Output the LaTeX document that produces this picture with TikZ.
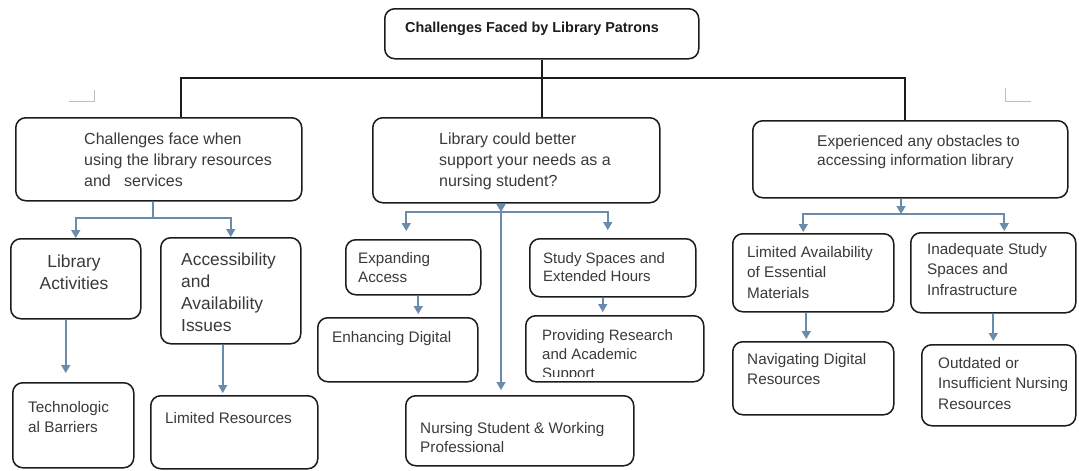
\documentclass[tikz,border=0pt]{standalone}
\usepackage{fontspec}
\setmainfont{Liberation Sans}
\usepackage{xcolor}
\definecolor{ink}{HTML}{3A3A3A}
\definecolor{edge}{HTML}{1C1C1C}
\definecolor{flowblue}{HTML}{6A8BAA}
\usepackage{tikz}
\usetikzlibrary{arrows.meta}
\tikzstyle{box}     = [rectangle, rounded corners=10pt, draw=edge, line width=1.5pt,
                       inner sep=0pt, anchor=north west]
\tikzstyle{lbl}     = [anchor=north west, inner sep=0pt, align=left, text=ink,
                       font=\fontsize{15.3}{20}\selectfont]
\tikzstyle{lblhead} = [lbl, font=\fontsize{16}{21}\selectfont]
\tikzstyle{lblbig}  = [lbl, font=\fontsize{17.4}{22}\selectfont]
\tikzstyle{link}    = [line width=1.8pt, edge]
\tikzstyle{flow}    = [-{Triangle[width=9pt,length=8pt]}, line width=1.6pt, flowblue]
\tikzstyle{crop}    = [line width=0.8pt, black!25]

\begin{document}
\begin{tikzpicture}[x=1pt, y=-1pt]
  \useasboundingbox[fill=white] (0,0) rectangle (1079,471);

  % boxes
  \node[box, minimum width=314pt, minimum height=50pt]  (top)   at (384,8)   {};
  \node[box, minimum width=286pt, minimum height=83pt]  (ch1)   at (15,117)  {};
  \node[box, minimum width=287pt, minimum height=85pt]  (ch2)   at (372,117) {};
  \node[box, minimum width=315pt, minimum height=77pt]  (ch3)   at (752,120) {};
  \node[box, minimum width=130pt, minimum height=80pt]  (lact)  at (10,238)  {};
  \node[box, minimum width=140pt, minimum height=106pt] (acc)   at (160,237) {};
  \node[box, minimum width=121pt, minimum height=85pt]  (tech)  at (12,382)  {};
  \node[box, minimum width=167pt, minimum height=73pt]  (lres)  at (150,395) {};
  \node[box, minimum width=135pt, minimum height=55pt]  (exp)   at (345,239) {};
  \node[box, minimum width=160pt, minimum height=64pt]  (enh)   at (317,317) {};
  \node[box, minimum width=228pt, minimum height=70pt]  (nurse) at (405,395) {};
  \node[box, minimum width=166pt, minimum height=58pt]  (study) at (529,238) {};
  \node[box, minimum width=178pt, minimum height=66pt]  (prov)  at (525,315) {};
  \node[box, minimum width=161pt, minimum height=78pt]  (lav)   at (732,233) {};
  \node[box, minimum width=161pt, minimum height=73pt]  (nav)   at (732,341) {};
  \node[box, minimum width=165pt, minimum height=80pt]  (inad)  at (910,232) {};
  \node[box, minimum width=154pt, minimum height=81pt]  (outd)  at (921,344) {};

  % texts
  \node[lbl, text=edge, font=\bfseries\fontsize{14.4}{18}\selectfont] (top-t) at (405,22)
    {Challenges Faced by Library Patrons};
  \node[lblhead] (ch1-t) at (84,133) {Challenges face when\\using the library resources\\and\ \ \ services};
  \node[lblhead] (ch2-t) at (439,133) {Library could better\\support your needs as a\\nursing student?};
  \node[lbl, font=\fontsize{15.5}{19}\selectfont] (ch3-t) at (817,135)
    {Experienced any obstacles to\\accessing information library};
  \node[lblbig, anchor=north, align=center] (lact-t) at (74,255) {Library\\Activities};
  \node[lblbig] (acc-t)   at (181,253) {Accessibility\\and\\Availability\\Issues};
  \node[lbl]    (tech-t)  at (28,401)  {Technologic\\al Barriers};
  \node[lbl]    (lres-t)  at (165,412) {Limited Resources};
  \node[lbl, font=\fontsize{15.2}{19}\selectfont] (exp-t) at (358,252) {Expanding\\Access};
  \node[lbl]    (enh-t)   at (332,331) {Enhancing Digital};
  \node[lbl, font=\fontsize{15.3}{19}\selectfont] (nurse-t) at (420,422)
    {Nursing Student \& Working\\Professional};
  \node[lbl, font=\fontsize{15}{18.5}\selectfont] (study-t) at (543,252) {Study Spaces and\\Extended Hours};
  \begin{scope}
    \clip (525,315) rectangle (703,376);
    \node[lbl, font=\fontsize{15}{19}\selectfont] (prov-t) at (542,329)
      {Providing Research\\and Academic\\Support};
  \end{scope}
  \node[lbl, font=\fontsize{15.3}{20.5}\selectfont] (lav-t)  at (747,246)
    {Limited Availability\\of Essential\\Materials};
  \node[lbl]    (nav-t)   at (747,353) {Navigating Digital\\Resources};
  \node[lbl, font=\fontsize{15.3}{20.5}\selectfont] (inad-t) at (927,243)
    {Inadequate Study\\Spaces and\\Infrastructure};
  \node[lbl, font=\fontsize{15.3}{20.5}\selectfont] (outd-t) at (938,357)
    {Outdated or\\Insufficient Nursing\\Resources};

  % black tree on top
  \coordinate (busL) at (181,78);
  \coordinate (busR) at (905,78);
  \draw[link] (top.south) -- (top.south |- ch2.north);
  \draw[link] (ch1.north -| busL) -- (busL) -- (busR) -- (ch3.north -| busR);

  % left branch
  \coordinate (jL) at (153,218);
  \draw[line width=1.6pt, flowblue] (ch1.south -| jL) -- (jL);
  \draw[flow] (jL) -| (lact);
  \draw[flow] (jL) -| (acc);
  \draw[flow, shorten >=9pt] ([xshift=-10pt]lact.south) -- ([xshift=-10pt]lact.south |- tech.north);
  \draw[flow, shorten >=2pt] ([xshift=-8pt]acc.south) -- ([xshift=-8pt]acc.south |- lres.north);

  % middle branch
  \coordinate (jM) at (501,212);
  \draw[flow] (ch2.south -| jM) -- (jM);
  \draw[flow, shorten >=8pt] (jM) -| ([xshift=-7pt]exp.north);
  \draw[flow, shorten >=8pt] (jM) -| ([xshift=-5pt]study.north);
  \draw[flow, shorten >=5pt] (jM) -- (jM |- nurse.north);
  \draw[flow, shorten >=3pt] ([xshift=5pt]exp.south) -- ([xshift=5pt]exp.south |- enh.north);
  \draw[flow, shorten >=3pt] ([xshift=-10pt]study.south) -- ([xshift=-10pt]study.south |- prov.north);

  % right branch
  \coordinate (jR) at (901,214);
  \draw[flow] (ch3.south -| jR) -- (jR);
  \draw[flow, shorten >=1pt] (jR) -| ([xshift=-10pt]lav.north);
  \draw[flow, shorten >=1pt] (jR) -| ([xshift=11pt]inad.north);
  \draw[flow, shorten >=2pt] ([xshift=-7pt]lav.south) -- ([xshift=-7pt]lav.south |- nav.north);
  \draw[flow, shorten >=3pt] (inad.south) -- (inad.south |- outd.north);

  % faint corner marks
  \draw[crop] (94,90) -- (94,101) -- (69,101);
  \draw[crop] (1005,88) -- (1005,101) -- (1031,101);
\end{tikzpicture}
\end{document}
